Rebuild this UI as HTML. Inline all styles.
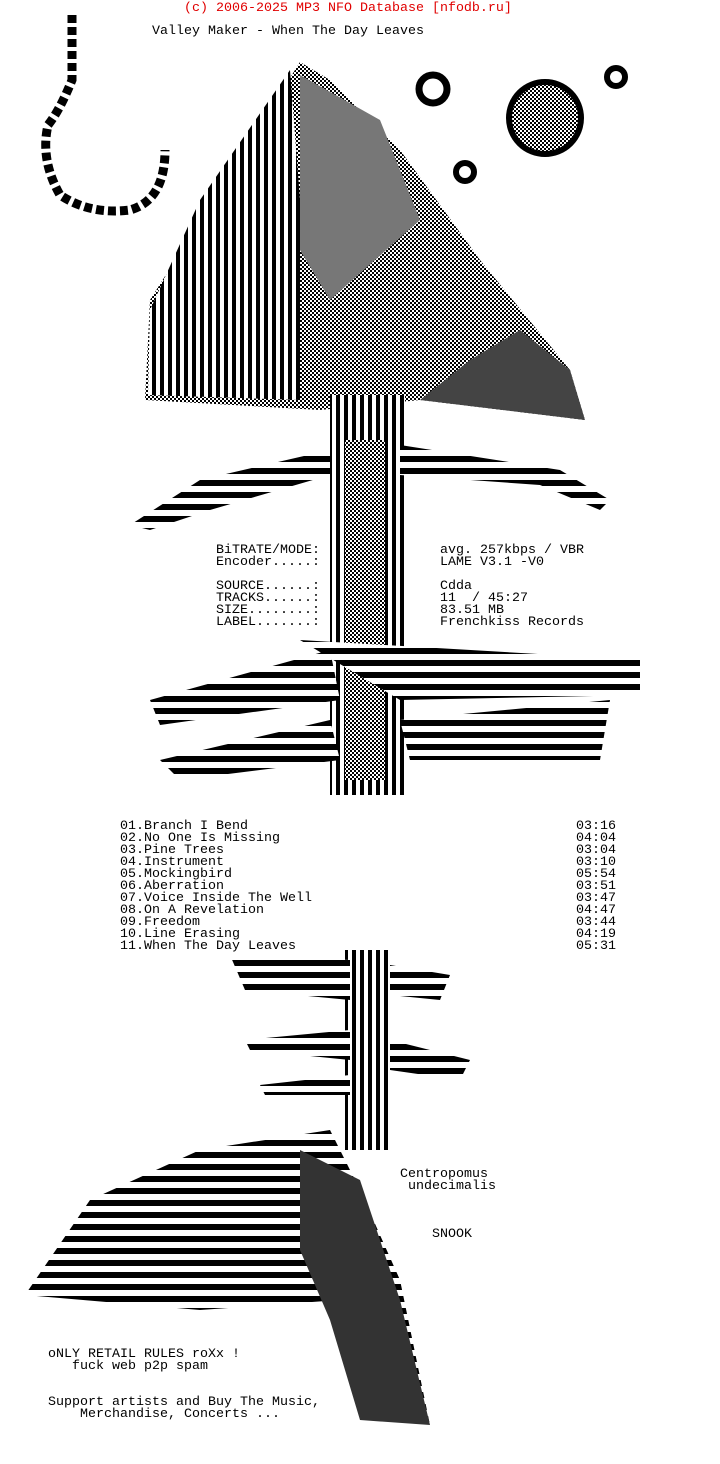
<!DOCTYPE html>
<html><head><meta charset="utf-8">
<style>
html,body{margin:0;padding:0;background:#fff;}
body{width:720px;height:1464px;position:relative;overflow:hidden;}
.t{position:absolute;font-family:"Liberation Mono",monospace;font-size:13.33px;line-height:12px;white-space:pre;color:#000;}
svg{position:absolute;left:0;top:0;}
</style></head><body>
<svg width="720" height="1464" viewBox="0 0 720 1464">
<defs>
<pattern id="g" width="4" height="4" patternUnits="userSpaceOnUse"><rect width="4" height="4" fill="#fff"/><rect width="2" height="2" fill="#000"/><rect x="2" y="2" width="2" height="2" fill="#000"/></pattern>
<pattern id="v" width="8" height="4" patternUnits="userSpaceOnUse"><rect width="8" height="4" fill="#fff"/><rect width="4" height="4" fill="#000"/></pattern>
<pattern id="h" width="4" height="12" patternUnits="userSpaceOnUse"><rect width="4" height="12" fill="#fff"/><rect width="4" height="6" fill="#000"/></pattern>
</defs>
<path d="M72 15 L72 80 Q60 110 48 125 Q40 160 60 195 Q90 215 130 210 Q165 200 165 150" fill="none" stroke="#000" stroke-width="9" stroke-dasharray="8 4"/>
<circle cx="433" cy="89" r="14" fill="none" stroke="#000" stroke-width="7"/>
<circle cx="545" cy="118" r="36" fill="url(#g)" stroke="#000" stroke-width="6"/>
<circle cx="616" cy="77" r="9" fill="none" stroke="#000" stroke-width="6"/>
<circle cx="465" cy="172" r="9" fill="none" stroke="#000" stroke-width="6"/>
<polygon points="300,62 150,300 145,400 320,410 420,400 585,420 570,370 480,260 400,150 330,80" fill="url(#g)"/>
<polygon points="290,70 200,200 150,310 148,395 300,400 300,200" fill="url(#v)"/>
<polygon points="300,75 380,120 420,220 330,300 300,250" fill="#777"/>
<polygon points="420,400 585,420 570,370 520,330 470,360" fill="#444"/>
<rect x="330" y="395" width="75" height="400" fill="url(#v)"/>
<rect x="345" y="440" width="40" height="340" fill="url(#g)"/>
<polygon points="130,525 200,480 330,450 330,475 210,510 150,530" fill="url(#h)"/>
<polygon points="400,445 560,470 610,500 600,510 540,485 400,475" fill="url(#h)"/>
<polygon points="300,640 640,660 640,695 400,700" fill="url(#h)"/>
<polygon points="150,700 330,650 340,700 160,725" fill="url(#h)"/>
<polygon points="160,760 330,720 340,760 180,780" fill="url(#h)"/>
<polygon points="400,720 610,700 600,760 410,760" fill="url(#h)"/>
<rect x="345" y="950" width="45" height="200" fill="url(#v)"/>
<polygon points="230,955 350,960 350,1000 245,990" fill="url(#h)"/>
<polygon points="390,965 450,975 440,1000 390,995" fill="url(#h)"/>
<polygon points="245,1040 350,1030 350,1060 250,1050" fill="url(#h)"/>
<polygon points="260,1085 350,1075 350,1095 265,1095" fill="url(#h)"/>
<polygon points="390,1040 470,1060 460,1080 390,1070" fill="url(#h)"/>
<polygon points="330,1130 200,1150 90,1200 25,1295 200,1310 340,1300 400,1380 430,1425 400,1280 360,1190" fill="url(#h)"/>
<polygon points="300,1150 360,1180 400,1300 430,1425 360,1420 330,1320 300,1250" fill="#333"/>
</svg>
<div class="t" style="left:184px;top:3px;color:#e00000;">(c) 2006-2025 MP3 NFO Database [nfodb.ru]</div>
<div class="t" style="left:152px;top:26px;">Valley Maker - When The Day Leaves</div>
<div class="t" style="left:216px;top:545px;background:#fff;">BiTRATE/MODE:
Encoder.....:

SOURCE......:
TRACKS......:
SIZE........:
LABEL.......:</div>
<div class="t" style="left:440px;top:545px;background:#fff;">avg. 257kbps / VBR
LAME V3.1 -V0

Cdda
11  / 45:27
83.51 MB
Frenchkiss Records</div>
<div class="t" style="left:120px;top:821px;">01.Branch I Bend
02.No One Is Missing
03.Pine Trees
04.Instrument
05.Mockingbird
06.Aberration
07.Voice Inside The Well
08.On A Revelation
09.Freedom
10.Line Erasing
11.When The Day Leaves</div>
<div class="t" style="left:576px;top:821px;">03:16
04:04
03:04
03:10
05:54
03:51
03:47
04:47
03:44
04:19
05:31</div>
<div class="t" style="left:400px;top:1169px;">Centropomus
 undecimalis



    SNOOK</div>
<div class="t" style="left:48px;top:1349px;">oNLY RETAIL RULES roXx !
   fuck web p2p spam


Support artists and Buy The Music,
    Merchandise, Concerts ...</div>
</body></html>
